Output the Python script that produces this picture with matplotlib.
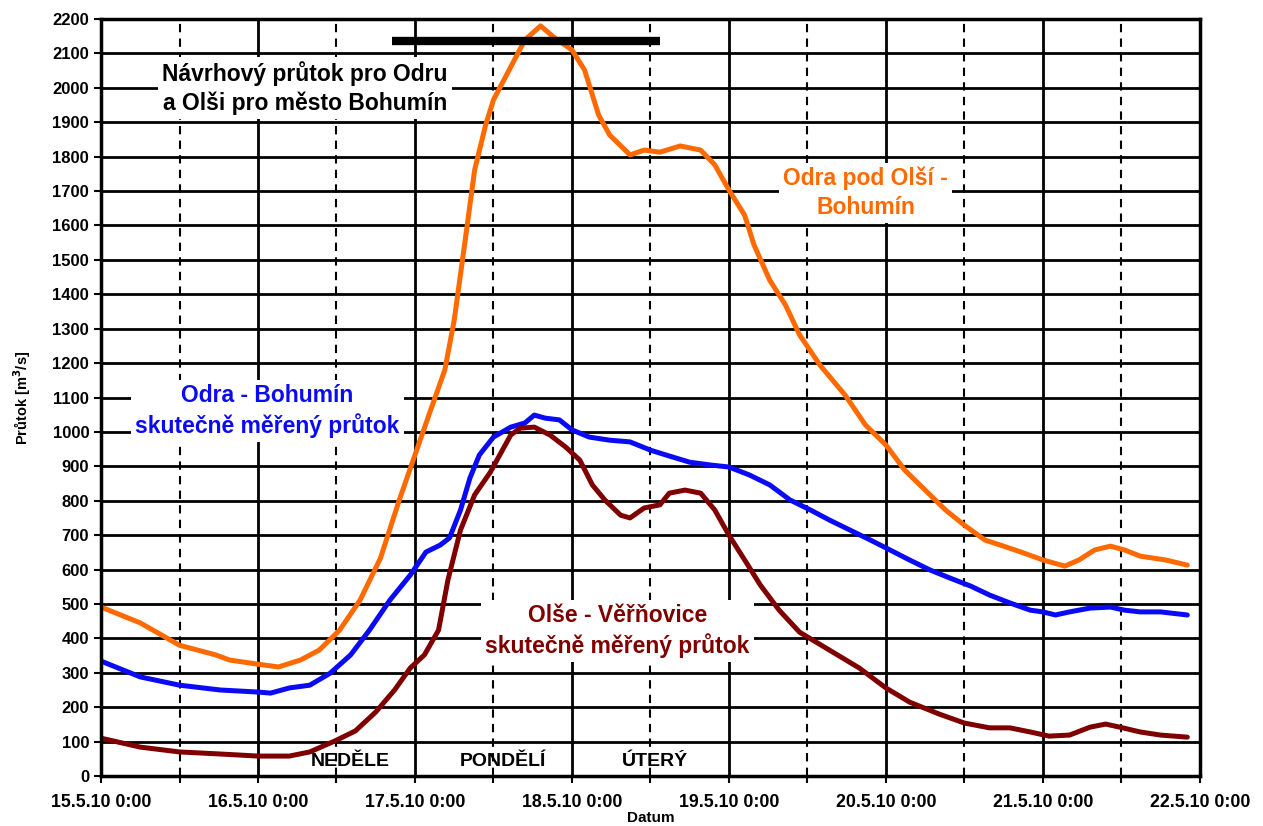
import numpy as np
import matplotlib
matplotlib.use("Agg")
import matplotlib.pyplot as plt
from matplotlib.ticker import MultipleLocator

plt.rcParams['font.family'] = ['Liberation Sans', 'DejaVu Sans']
plt.rcParams['font.weight'] = 'bold'

# time in days since 15.5.10 0:00
odra_olse_t = [0.0, 0.25, 0.5, 0.73, 0.82, 1.0, 1.13, 1.27, 1.39, 1.52, 1.65, 1.78, 1.9, 2.0,
               2.1, 2.19, 2.25, 2.32, 2.38, 2.45, 2.5, 2.6, 2.7, 2.8, 2.89, 3.0, 3.08, 3.17,
               3.24, 3.37, 3.46, 3.56, 3.69, 3.82, 3.91, 4.0, 4.1, 4.16, 4.26, 4.36, 4.45,
               4.58, 4.74, 4.87, 5.0, 5.12, 5.25, 5.38, 5.5, 5.63, 5.73, 5.86, 6.0, 6.14,
               6.23, 6.33, 6.43, 6.52, 6.62, 6.78, 6.92]
odra_olse_q = [491, 445, 380, 352, 337, 325, 317, 337, 366, 424, 511, 633, 802, 933,
               1064, 1180, 1325, 1558, 1761, 1892, 1965, 2052, 2139, 2180, 2145, 2110, 2052, 1921,
               1863, 1805, 1819, 1813, 1831, 1819, 1776, 1703, 1630, 1543, 1441, 1369, 1282,
               1194, 1107, 1020, 962, 889, 831, 773, 729, 686, 671, 651, 628, 610,
               628, 657, 668, 657, 639, 628, 613]

odra_t = [0.0, 0.25, 0.5, 0.76, 1.0, 1.08, 1.2, 1.33, 1.46, 1.59, 1.71, 1.84, 1.97, 2.07,
          2.16, 2.22, 2.29, 2.35, 2.41, 2.5, 2.61, 2.7, 2.76, 2.83, 2.92, 3.0, 3.11, 3.24,
          3.37, 3.5, 3.62, 3.75, 3.88, 4.0, 4.13, 4.26, 4.39, 4.52, 4.64, 4.77, 4.9, 5.0,
          5.15, 5.28, 5.41, 5.54, 5.66, 5.79, 5.92, 6.0, 6.08, 6.17, 6.3, 6.43, 6.52,
          6.62, 6.75, 6.92]
odra_q = [334, 288, 264, 250, 244, 241, 256, 264, 299, 352, 424, 511, 584, 651,
          671, 692, 773, 866, 933, 985, 1014, 1026, 1049, 1040, 1035, 1006, 985, 976,
          971, 947, 930, 912, 904, 898, 875, 846, 802, 773, 744, 715, 686, 663,
          628, 599, 575, 552, 526, 503, 482, 477, 468, 477, 488, 491, 482,
          477, 477, 468]

olse_t = [0.0, 0.25, 0.5, 0.76, 1.0, 1.2, 1.33, 1.49, 1.62, 1.75, 1.87, 1.97, 2.06, 2.15,
          2.21, 2.29, 2.38, 2.48, 2.54, 2.61, 2.67, 2.76, 2.86, 2.96, 3.05, 3.13, 3.21,
          3.31, 3.37, 3.46, 3.56, 3.62, 3.72, 3.82, 3.91, 4.0, 4.1, 4.2, 4.32, 4.45,
          4.64, 4.83, 5.0, 5.15, 5.34, 5.5, 5.66, 5.79, 5.92, 6.04, 6.17, 6.3, 6.4,
          6.49, 6.62, 6.75, 6.92]
olse_q = [110, 84, 70, 64, 58, 58, 70, 102, 131, 186, 250, 314, 352, 424,
          570, 715, 817, 883, 933, 991, 1011, 1014, 991, 956, 918, 846, 802,
          758, 750, 779, 788, 822, 831, 822, 773, 700, 628, 555, 482, 418,
          366, 314, 256, 215, 180, 154, 140, 140, 128, 116, 119, 142, 151,
          142, 128, 119, 113]

design_t = [1.853, 3.56]
design_q = [2135, 2135]

day_labels = ['15.5.10 0:00', '16.5.10 0:00', '17.5.10 0:00', '18.5.10 0:00',
              '19.5.10 0:00', '20.5.10 0:00', '21.5.10 0:00', '22.5.10 0:00']

ORANGE = '#FF6A00'
BLUE = '#0A0AF5'
DARKRED = '#7F0000'

fig = plt.figure(figsize=(12.63, 8.26), dpi=100)
ax = fig.add_axes([0.080, 0.0605, 0.870, 0.9165])

# grid
for y in range(100, 2200, 100):
    ax.axhline(y, color='black', lw=2, zorder=1)
for d in range(1, 7):
    ax.axvline(d, color='black', lw=2, zorder=1)
for d in np.arange(0.5, 7, 1.0):
    ax.axvline(d, color='black', lw=1.5, ls=(0, (4, 3)), zorder=1)

line_kw = dict(lw=3.6, zorder=4, solid_joinstyle='round', solid_capstyle='round')
ax.plot(odra_olse_t, odra_olse_q, color=ORANGE, **line_kw)
ax.plot(odra_t, odra_q, color=BLUE, **line_kw)
ax.plot(olse_t, olse_q, color=DARKRED, **line_kw)
ax.plot(design_t, design_q, color='black', lw=6, solid_capstyle='butt', zorder=4)

ax.set_xlim(0, 7)
ax.set_ylim(0, 2200)
ax.set_xticks(range(8))
ax.set_xticklabels(day_labels)
ax.xaxis.set_minor_locator(MultipleLocator(0.5))
ax.yaxis.set_major_locator(MultipleLocator(100))
ax.tick_params(axis='both', which='both', direction='out', length=5, width=1.5, labelsize=12)
ax.tick_params(axis='x', labelsize=12.8, pad=8)
for s in ax.spines.values():
    s.set_linewidth(2.5)
    s.set_zorder(5)

ax.set_ylabel('Průtok [m$^3$/s]', fontsize=10.5, fontweight='bold', labelpad=14)
ax.set_xlabel('Datum', fontsize=11, fontweight='bold', labelpad=0)

box = dict(facecolor='white', edgecolor='none', pad=3)
txt_kw = dict(ha='center', va='center', fontsize=16.5, fontweight='bold',
              bbox=box, zorder=3, linespacing=1.3)
ax.text(1.3, 2000, 'Návrhový průtok pro Odru\na Olši pro město Bohumín', color='black', **txt_kw)
ax.text(1.06, 1060, 'Odra - Bohumín\nskutečně měřený průtok', color=BLUE, **txt_kw)
ax.text(3.29, 422, 'Olše - Věřňovice\nskutečně měřený průtok', color=DARKRED, **txt_kw)
ax.text(4.87, 1695, 'Odra pod Olší -\nBohumín', color=ORANGE, **txt_kw)

for x, lab in [(1.585, 'NEDĚLE'), (2.56, 'PONDĚLÍ'), (3.53, 'ÚTERÝ')]:
    ax.text(x, 42, lab, ha='center', va='center', fontsize=14, fontweight='bold',
            color='black', zorder=3)

fig.savefig('out.png', dpi=100)
